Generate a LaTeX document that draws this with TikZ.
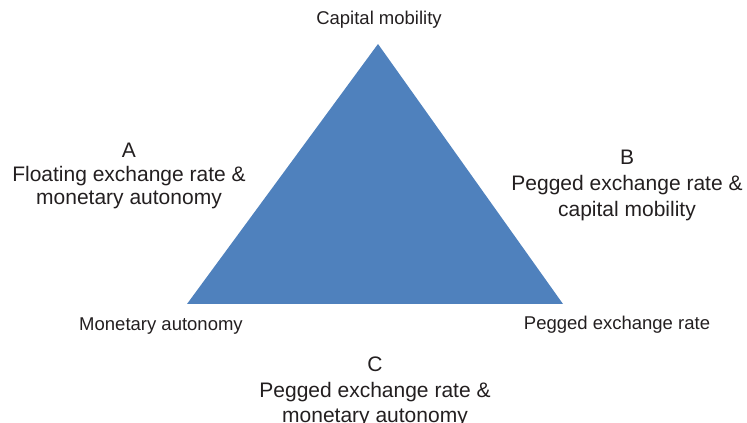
\documentclass[tikz,border=0pt]{standalone}
\usepackage{fontspec}
\setmainfont{Liberation Sans}
\usepackage{tikz}
\definecolor{trianglefill}{RGB}{79,129,189}
\definecolor{labeltext}{RGB}{35,31,32}

\begin{document}
\begin{tikzpicture}[x=1pt,y=1pt,
  corner label/.style={font=\fontsize{18.5}{22}\selectfont,text=labeltext,inner sep=0pt},
  region label/.style={font=\fontsize{21}{#1}\selectfont,text=labeltext,align=center,inner sep=0pt},
  region label/.default=24]
  \useasboundingbox (0,0) rectangle (747,423);
  %triangle
  \coordinate (top) at (378,379);
  \coordinate (left) at (187,119);
  \coordinate (right) at (563,119);
  \fill[trianglefill] (top) -- (left) -- (right) -- cycle;

  %corners
  \node[corner label,at={(379,403)}] (capital) {Capital mobility};
  \node[corner label,at={(161,97)}] (monetary) {Monetary autonomy};
  \node[corner label,at={(617,98)}] (pegged) {Pegged exchange rate};

  %regions
  \node[region label=23.5,at={(129,247)}] (regionA) {A\\Floating exchange rate \&\\monetary autonomy};
  \node[region label=26,at={(627,238)}] (regionB) {B\\Pegged exchange rate \&\\capital mobility};
  \node[region label=25.5,at={(375,31)}] (regionC) {C\\Pegged exchange rate \&\\monetary autonomy};
\end{tikzpicture}
\end{document}
